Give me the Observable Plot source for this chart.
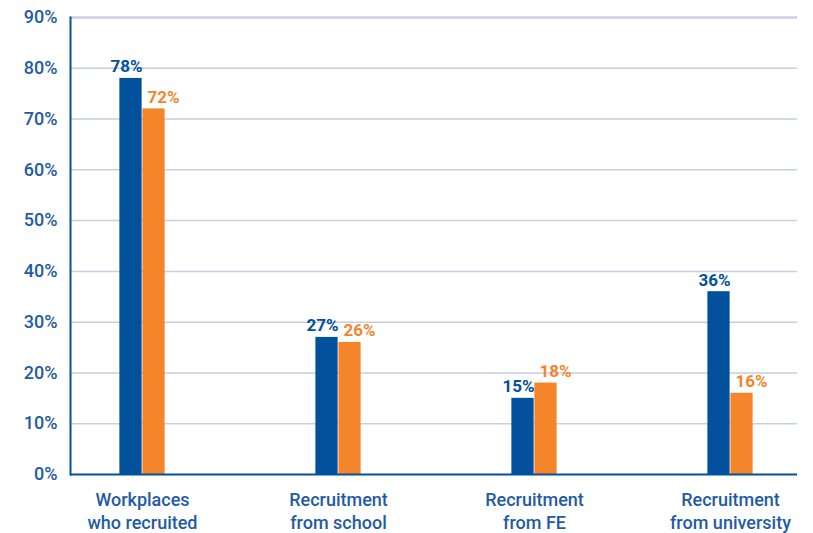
<!DOCTYPE html>
<html><head><meta charset="utf-8">
<script src="https://cdn.jsdelivr.net/npm/d3@7"></script>
<script src="https://cdn.jsdelivr.net/npm/@observablehq/plot@0.6"></script>
<style>body{margin:0;background:#fff}</style>
</head><body><div id="chart"></div>
<script>
const categories = ["Workplaces who recruited", "Recruitment from school", "Recruitment from FE", "Recruitment from university"];
const categoryLabels = ["Workplaces\nwho recruited", "Recruitment\nfrom school", "Recruitment\nfrom FE", "Recruitment\nfrom university"];
const seriesNames = ["Series 1", "Series 2"];
const series1 = [78, 27, 15, 36];
const series2 = [72, 26, 18, 16];
const yTicks = [0, 10, 20, 30, 40, 50, 60, 70, 80, 90];

const BLUE = "#03509d", ORANGE = "#f5852b", TEXT = "#1f5ba6", GRID = "#c9cde6";
const data = [];
categories.forEach((c, i) => {
  data.push({category: c, series: seriesNames[0], value: series1[i]});
  data.push({category: c, series: seriesNames[1], value: series2[i]});
});
const r0 = 42, r1 = 829;
const half = (r1 - r0) / categories.length / 2;
const barW = 23;
const s1 = data.filter(d => d.series === seriesNames[0]);
const s2 = data.filter(d => d.series === seriesNames[1]);

const chart = Plot.plot({
  width: 813, height: 533,
  marginLeft: 70, marginRight: 16, marginTop: 17, marginBottom: 59,
  style: {fontFamily: "Roboto", fontSize: "18px", fontWeight: 500, color: TEXT, background: "#fff"},
  x: {domain: categories, range: [r0, r1], padding: 0, type: "band", label: null},
  y: {domain: [0, 90], label: null},
  color: {domain: seriesNames, range: [BLUE, ORANGE]},
  marks: [
    Plot.ruleY(yTicks.filter(d => d > 0 && d < 90), {stroke: GRID, strokeWidth: 1.5}),
    Plot.ruleY([90], {stroke: GRID, strokeWidth: 2.5}),
    Plot.barY(s1, {x: "category", y: "value", fill: "series", insetLeft: half - barW, insetRight: half}),
    Plot.barY(s2, {x: "category", y: "value", fill: "series", insetLeft: half, insetRight: half - barW}),
    Plot.ruleY([0], {stroke: BLUE, strokeWidth: 2}),
    Plot.frame({anchor: "left", stroke: BLUE, strokeWidth: 2}),
    Plot.text(s1, {x: "category", y: "value", text: d => d.value + "%", fill: "series", fontWeight: 700, fontSize: 17, textAnchor: "end", dx: 0, lineAnchor: "bottom", dy: -6}),
    Plot.text(s2, {x: "category", y: "value", text: d => d.value + "%", fill: "series", fontWeight: 700, fontSize: 17, textAnchor: "start", dx: 5, lineAnchor: "bottom", dy: -6}),
    Plot.axisY({ticks: yTicks, tickFormat: d => d + "%", tickSize: 0, tickPadding: 13, fontSize: 18, label: null}),
    Plot.axisX({tickSize: 0, tickPadding: 16, tickFormat: d => categoryLabels[categories.indexOf(d)], lineHeight: 1.25, fontSize: 18, label: null})
  ]
});
document.getElementById("chart").appendChild(chart);
</script>
</body></html>
